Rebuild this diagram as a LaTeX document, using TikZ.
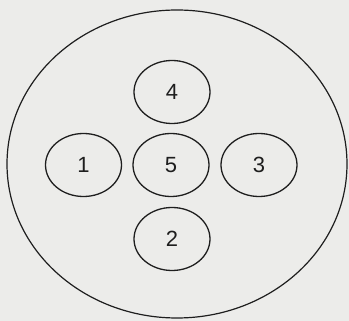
\documentclass[tikz,border=0pt]{standalone}
\usepackage{fontspec}
\setmainfont{Liberation Sans}
\usepackage{tikz}
\usetikzlibrary{shapes.geometric}
\definecolor{scanbg}{RGB}{236,236,234}
\definecolor{ink}{RGB}{30,30,30}
\tikzset{
    dish/.style={ellipse, draw=ink, line width=1.2pt, inner sep=0pt, minimum width=340pt, minimum height=308pt},
    zone/.style={ellipse, draw=ink, line width=1.3pt, inner sep=0pt, minimum width=76pt, minimum height=63pt, text=ink, font=\fontsize{22}{26}\selectfont}
}

\begin{document}
\begin{tikzpicture}[x=1pt,y=1pt]
            \fill[scanbg] (0,0) rectangle (349,321);
            \useasboundingbox (0,0) rectangle (349,321);

            \node[dish] (d) at (177,157) {};

            \node[zone] (z4) at (172,229) {4};
            \node[zone] (z1) at (83.5,156) {1};
            \node[zone] (z5) at (171,156) {5};
            \node[zone] (z3) at (259,156) {3};
            \node[zone] (z2) at (172,82) {2};
        \end{tikzpicture}
\end{document}
